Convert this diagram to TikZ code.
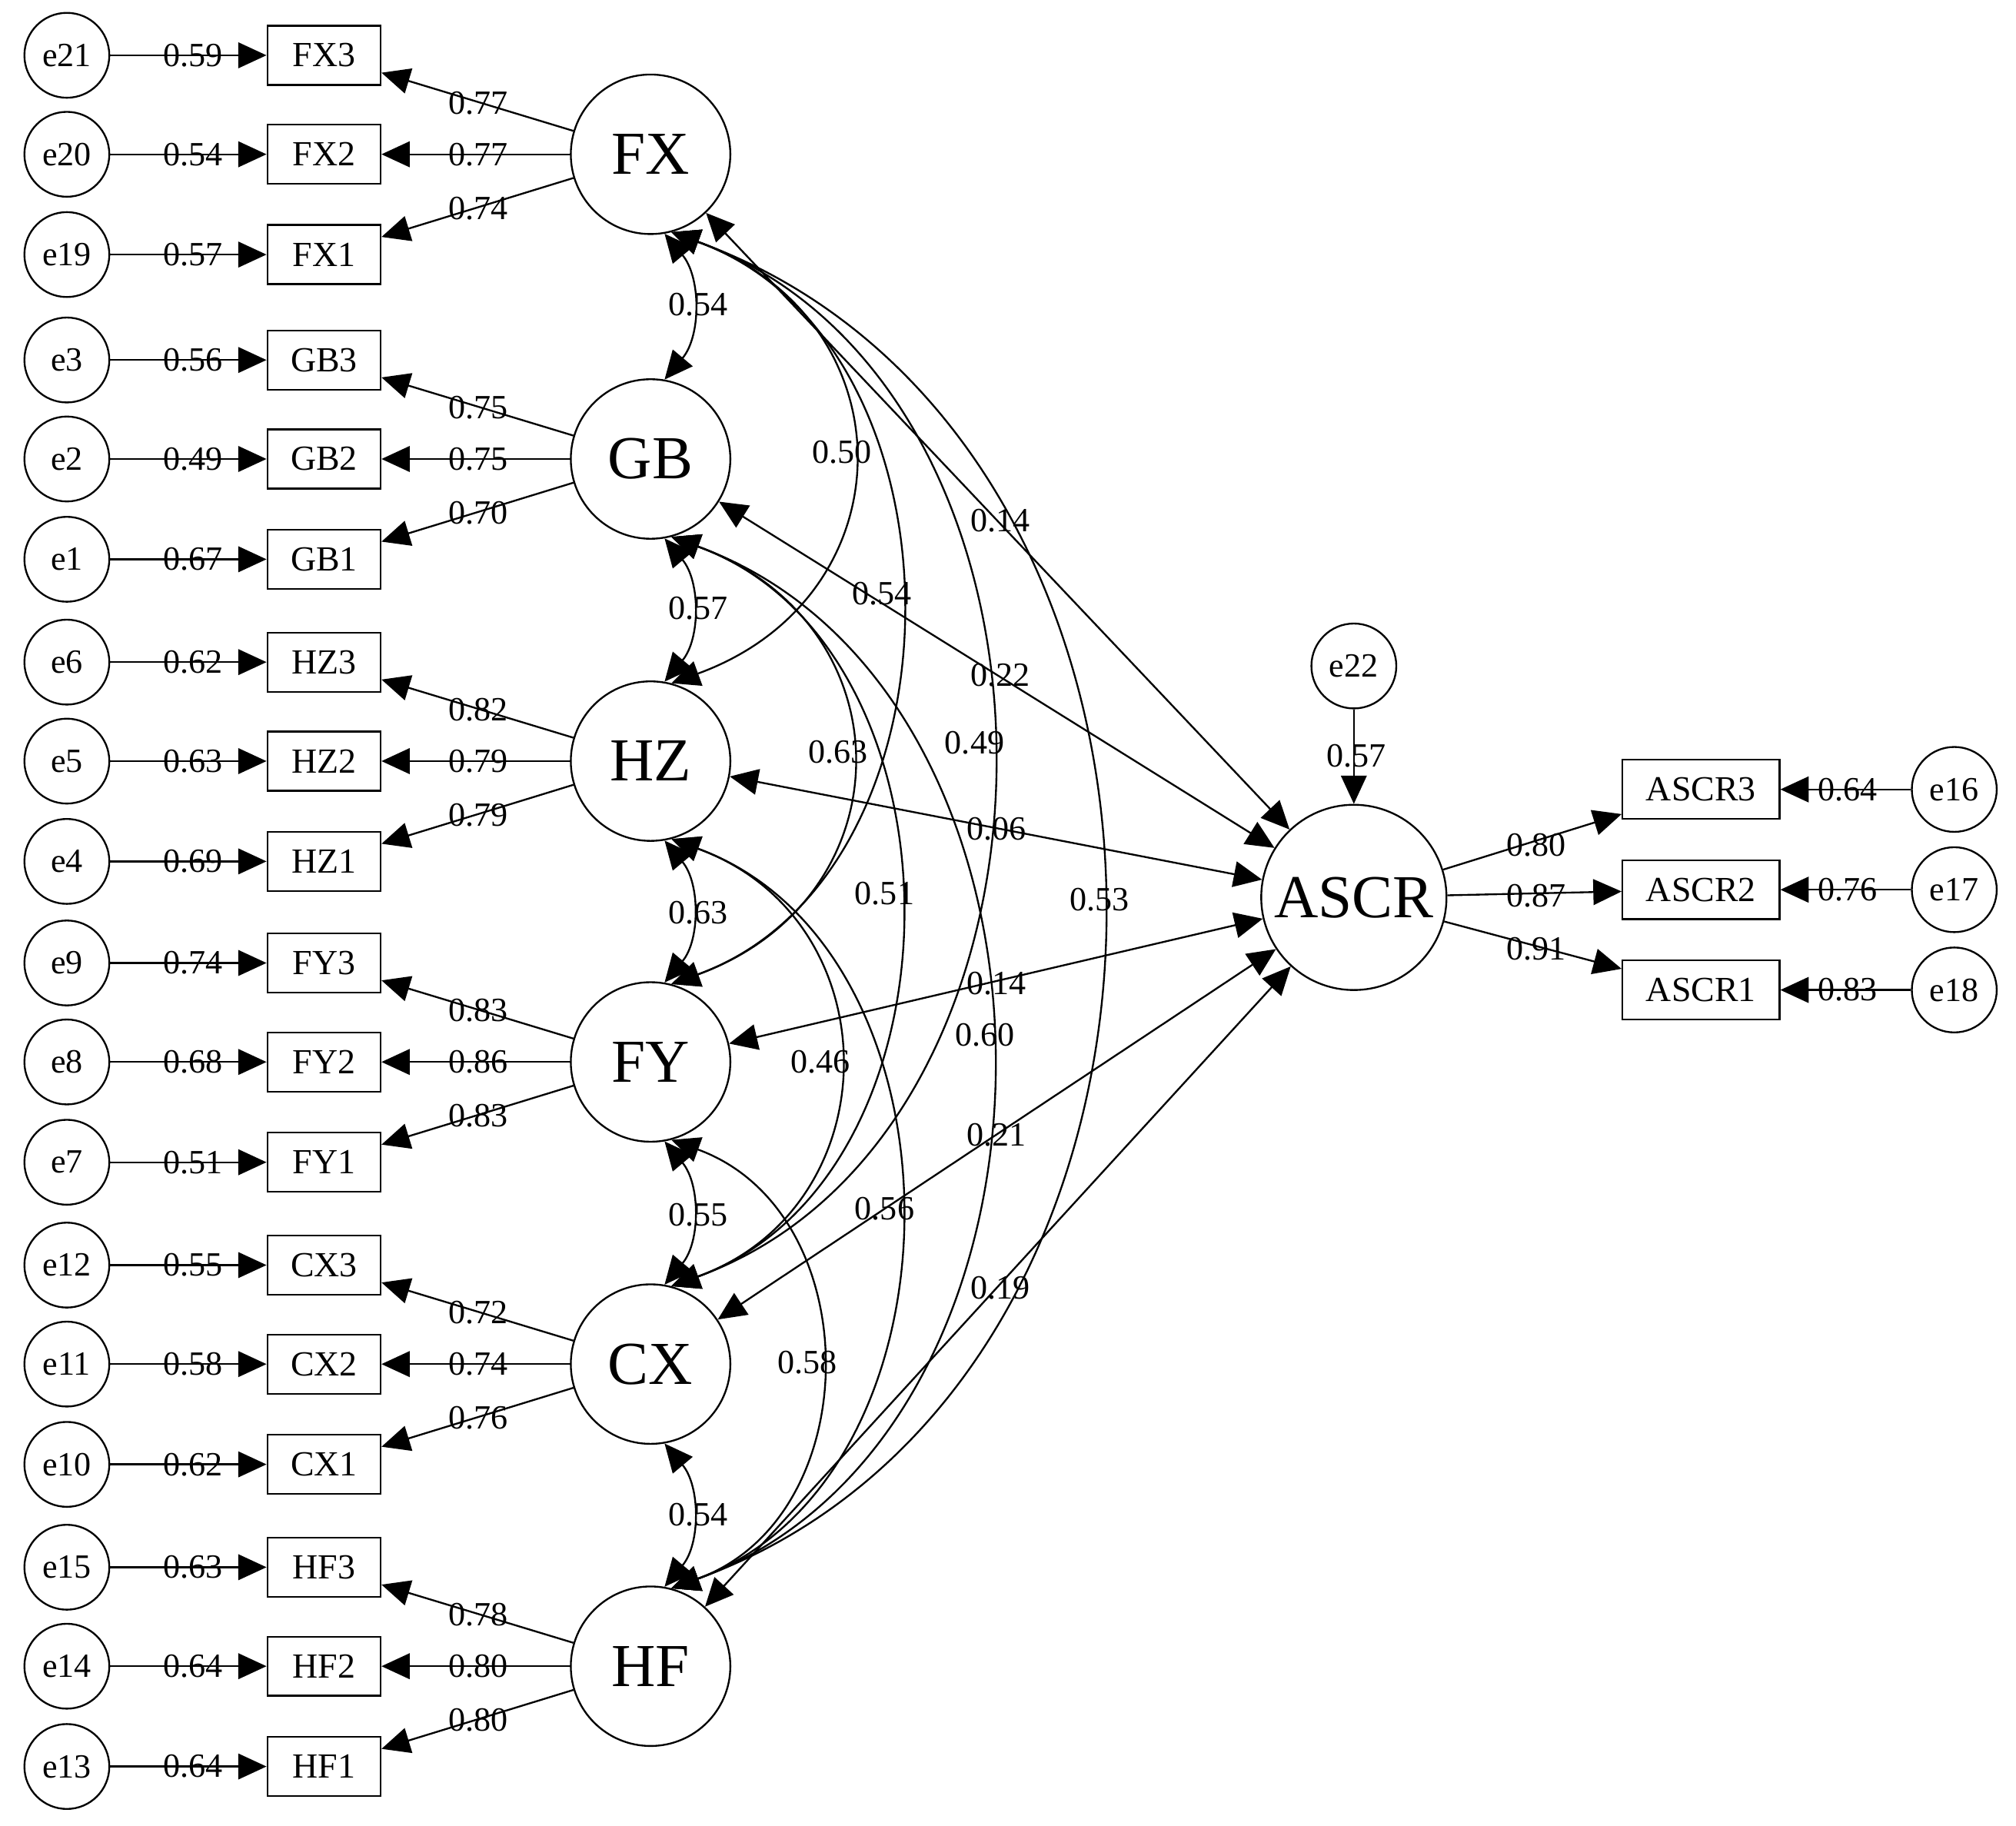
\documentclass[tikz,border=0pt]{standalone}
\usepackage{fontspec}
\setmainfont{Liberation Serif}
\usetikzlibrary{arrows.meta}
\begin{document}
\begin{tikzpicture}[x=0.01cm,y=-0.01cm,line width=0.4pt,
  tri/.style={-{Triangle[length=0.22cm,width=0.2cm]}},
  dtri/.style={{Triangle[length=0.22cm,width=0.2cm]}-{Triangle[length=0.22cm,width=0.2cm]}},
  err/.style={draw,circle,minimum size=0.66cm,inner sep=0pt,font=\fontsize{7.5}{8}\selectfont},
  obs/.style={draw,rectangle,minimum width=0.88cm,minimum height=0.46cm,inner sep=0pt,font=\fontsize{7.8}{8}\selectfont},
  obsw/.style={obs,minimum width=1.22cm},
  lat/.style={draw,circle,minimum size=1.24cm,inner sep=0pt,font=\fontsize{13.5}{15}\selectfont},
  lab/.style={inner sep=0pt,font=\fontsize{7.5}{8}\selectfont}]
\useasboundingbox (0,0) rectangle (1568,1420);
\foreach \L/\y/\a/\b/\c/\ea/\eb/\ec/\la/\lb/\lc/\va/\vb/\vc in {
 FX/120/FX3/FX2/FX1/e21/e20/e19/0.77/0.77/0.74/0.59/0.54/0.57,
 GB/357/GB3/GB2/GB1/e3/e2/e1/0.75/0.75/0.70/0.56/0.49/0.67,
 HZ/592/HZ3/HZ2/HZ1/e6/e5/e4/0.82/0.79/0.79/0.62/0.63/0.69,
 FY/826/FY3/FY2/FY1/e9/e8/e7/0.83/0.86/0.83/0.74/0.68/0.51,
 CX/1061/CX3/CX2/CX1/e12/e11/e10/0.72/0.74/0.76/0.55/0.58/0.62,
 HF/1296/HF3/HF2/HF1/e15/e14/e13/0.78/0.80/0.80/0.63/0.64/0.64}{
  \node[lat] (\L) at (506,\y) {\L};
  \node[obs] (\a) at (252,\y-77) {\a};
  \node[obs] (\b) at (252,\y) {\b};
  \node[obs] (\c) at (252,\y+78) {\c};
  \node[err] (\ea) at (52,\y-77) {\ea};
  \node[err] (\eb) at (52,\y) {\eb};
  \node[err] (\ec) at (52,\y+78) {\ec};
  \draw[tri] (\L) -- (\a);
  \draw[tri] (\L) -- (\b);
  \draw[tri] (\L) -- (\c);
  \draw[tri] (\ea) -- (\a);
  \draw[tri] (\eb) -- (\b);
  \draw[tri] (\ec) -- (\c);
  \node[lab] at (372,\y-40) {\la};
  \node[lab] at (372,\y) {\lb};
  \node[lab] at (372,\y+42) {\lc};
  \node[lab] at (150,\y-77) {\va};
  \node[lab] at (150,\y) {\vb};
  \node[lab] at (150,\y+78) {\vc};
}
% ASCR part
\node[draw,circle,minimum size=1.44cm,inner sep=0pt,font=\fontsize{13.5}{15}\selectfont] (ASCR) at (1053,698) {ASCR};
\node[err] (e22) at (1053,518) {e22};
\draw[tri] (e22) -- (ASCR);
\node[lab] at (1055,588) {0.57};
\foreach \o/\e/\y/\l/\v/\ly in {ASCR3/e16/614/0.80/0.64/657,ASCR2/e17/692/0.87/0.76/697,ASCR1/e18/770/0.91/0.83/738}{
  \node[obsw] (\o) at (1323,\y) {\o};
  \node[err] (\e) at (1520,\y) {\e};
  \draw[tri] (ASCR) -- (\o);
  \draw[tri] (\e) -- (\o);
  \node[lab] at (1195,\ly) {\l};
  \node[lab] at (1437,\y) {\v};
}
% paths to ASCR
\foreach \L/\lx/\ly/\v in {FX/778/405/0.14,GB/778/525/0.22,HZ/775/645/0.06,FY/775/765/0.14,CX/775/883/0.21,HF/778/1002/0.19}{
  \draw[dtri] (\L) -- (ASCR);
  \node[lab] at (\lx,\ly) {\v};
}
% short covariances
\foreach \A/\B/\ly/\v in {FX/GB/237/0.54,GB/HZ/473/0.57,HZ/FY/710/0.63,FY/CX/945/0.55,CX/HF/1178/0.54}{
  \draw[dtri] (\A.-80) to[bend left=40] (\B.80);
  \node[lab] at (543,\ly) {\v};
}
% long covariances
\foreach \A/\B/\lo/\lx/\ly/\v in {
  FX/HZ/1.45/655/352/0.50, FX/FY/1.1/686/462/0.54, FX/CX/1.1/758/578/0.49, FX/HF/1.15/855/700/0.53,
  GB/FY/1.45/652/585/0.63, GB/CX/1.1/688/695/0.51, GB/HF/1.1/766/805/0.60,
  HZ/CX/1.35/638/826/0.46, HZ/HF/1.1/688/940/0.56,
  FY/HF/1.2/628/1060/0.58}{
  \draw[dtri] (\A.-75) to[out=-20,in=20,looseness=\lo] (\B.75);
  \node[lab] at (\lx,\ly) {\v};
}
\end{tikzpicture}
\end{document}
